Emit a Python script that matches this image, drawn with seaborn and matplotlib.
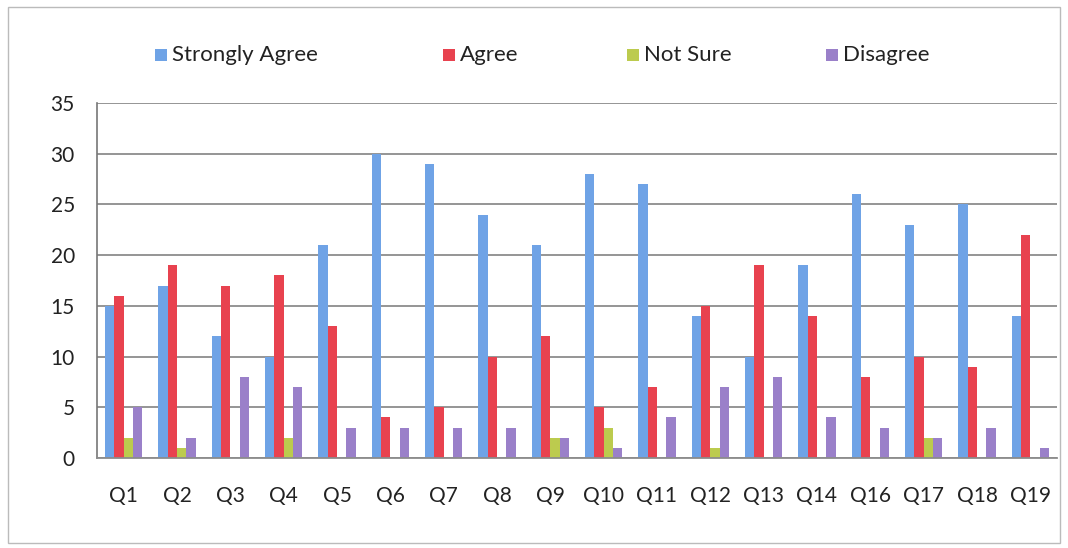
import matplotlib
matplotlib.use("Agg")
import matplotlib.pyplot as plt
import matplotlib.patches as mpatches
import numpy as np
import pandas as pd
import seaborn as sns

# --- data ---
questions = ["Q1", "Q2", "Q3", "Q4", "Q5", "Q6", "Q7", "Q8", "Q9", "Q10",
             "Q11", "Q12", "Q13", "Q14", "Q16", "Q17", "Q18", "Q19"]
strongly_agree = [15, 17, 12, 10, 21, 30, 29, 24, 21, 28, 27, 14, 10, 19, 26, 23, 25, 14]
agree = [16, 19, 17, 18, 13, 4, 5, 10, 12, 5, 7, 15, 19, 14, 8, 10, 9, 22]
not_sure = [2, 1, 0, 2, 0, 0, 0, 0, 2, 3, 0, 1, 0, 0, 0, 2, 0, 0]
disagree = [5, 2, 8, 7, 3, 3, 3, 3, 2, 1, 4, 7, 8, 4, 3, 2, 3, 1]
series_names = ["Strongly Agree", "Agree", "Not Sure", "Disagree"]
y_ticks = [0, 5, 10, 15, 20, 25, 30, 35]

df = pd.DataFrame({"Question": questions,
                   "Strongly Agree": strongly_agree,
                   "Agree": agree,
                   "Not Sure": not_sure,
                   "Disagree": disagree})
long_df = df.melt(id_vars="Question", var_name="Response", value_name="Count")

# --- style ---
sns.set_style("white")
plt.rcParams['font.family'] = ['Lato', 'DejaVu Sans']
colors = ['#6FA3E6', '#E8424F', '#BCCB4E', '#9A80C9']
grid_color = '#8C8C8C'
text_color = '#222222'

W, H = 1068, 548
fig = plt.figure(figsize=(W / 100, H / 100), dpi=100)
ax = fig.add_axes([97 / W, 1 - 458 / H, 960 / W, 355 / H])

sns.barplot(data=long_df, x="Question", y="Count", hue="Response",
            hue_order=series_names, palette=colors, width=0.7,
            saturation=1, linewidth=0, ax=ax, legend=False)

ax.set_ylim(0, 35)
ax.set_xlim(-0.5, len(questions) - 0.5)
ax.set_yticks(y_ticks)
ax.yaxis.grid(True, color=grid_color, linewidth=1.3)
ax.set_axisbelow(True)
ax.set_xlabel("")
ax.set_ylabel("")

for s in ['top', 'right']:
    ax.spines[s].set_visible(False)
ax.spines['left'].set_color('#777777')
ax.spines['bottom'].set_color(grid_color)
ax.spines['left'].set_linewidth(1.2)
ax.spines['bottom'].set_linewidth(1.3)

ax.tick_params(axis='y', length=5, color='#777777', labelsize=15,
               labelcolor=text_color, pad=11)
ax.tick_params(axis='x', which='major', length=0, labelsize=15,
               labelcolor=text_color, pad=20)
ax.set_xticks(np.arange(-0.5, len(questions), 1), minor=True)
ax.tick_params(axis='x', which='minor', length=5, color=grid_color)

# --- legend across the top (Excel-style uneven slots) ---
legend_x = [155, 443, 627, 826]
legend_y = 55
sq = 12
for x, c, n in zip(legend_x, colors, series_names):
    fig.patches.append(mpatches.Rectangle((x / W, 1 - (legend_y + sq / 2) / H),
                                          sq / W, sq / H, transform=fig.transFigure,
                                          facecolor=c, edgecolor='none'))
    fig.text((x + sq + 5) / W, 1 - legend_y / H, n, ha='left', va='center',
             fontsize=16, color=text_color)

# light frame around the chart area
fig.patches.append(mpatches.Rectangle((8 / W, 5 / H), 1052 / W, 536 / H,
                                      transform=fig.transFigure, fill=False,
                                      edgecolor='#BBBBBB', linewidth=1))

plt.savefig('out.png', dpi=100, facecolor='white')
